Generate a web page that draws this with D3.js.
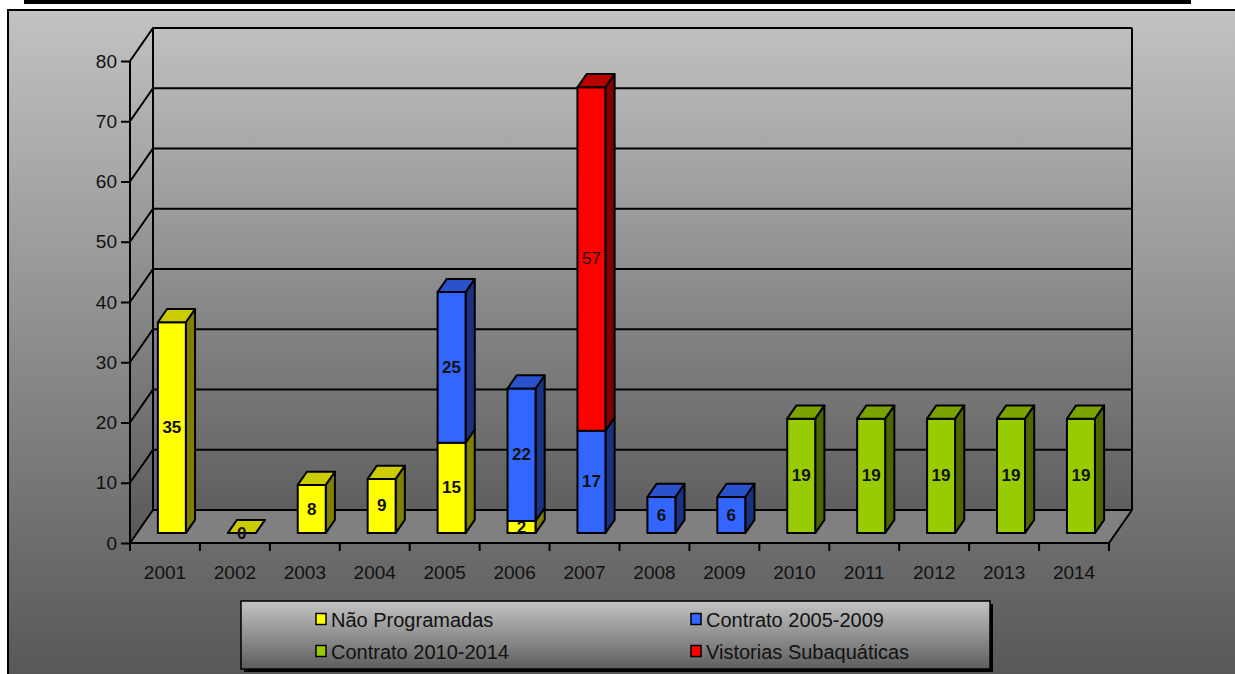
<!DOCTYPE html>
<html>
<head>
<meta charset="utf-8">
<script src="https://cdn.jsdelivr.net/npm/d3@7/dist/d3.min.js"></script>
<style>
  html, body { margin: 0; padding: 0; background: #ffffff; }
  svg { display: block; }
  text { font-family: Arial, "Liberation Sans", sans-serif; }
</style>
</head>
<body>
<svg id="chart" width="1235" height="674"></svg>
<script>
// ---- data ----
const years = ["2001","2002","2003","2004","2005","2006","2007","2008","2009","2010","2011","2012","2013","2014"];
const naoProgramadas = [35, 0, 8, 9, 15, 2, null, null, null, null, null, null, null, null];
const contrato0509   = [null, null, null, null, 25, 22, 17, 6, 6, null, null, null, null, null];
const contrato1014   = [null, null, null, null, null, null, null, null, null, 19, 19, 19, 19, 19];
const vistorias      = [null, null, null, null, null, null, 57, null, null, null, null, null, null, null];
const seriesNames = ["Não Programadas", "Contrato 2005-2009", "Contrato 2010-2014", "Vistorias Subaquáticas"];
const yTicks = [0, 10, 20, 30, 40, 50, 60, 70, 80];

const seriesValues = [naoProgramadas, contrato0509, contrato1014, vistorias];
const palette = [
  { front: "#ffff00", top: "#cccc00", side: "#808000" },
  { front: "#3366ff", top: "#2952cc", side: "#1a3380" },
  { front: "#99cc00", top: "#7aa300", side: "#4d6600" },
  { front: "#ff0000", top: "#b80000", side: "#800000" }
];

const svg = d3.select("#chart");
const W = 1235, H = 674;

// ---- geometry ----
const depth = { dx: 23, dy: -33 };          // full floor depth
const barFront = 0.3, barBack = 0.7;        // bar position within the depth
const x = d3.scaleBand().domain(years).range([130, 1109]).paddingInner(0).paddingOuter(0);
const y = d3.scaleLinear().domain([0, 80]).range([543, 61]);
const barW = x.bandwidth() * 0.4;

const defs = svg.append("defs");
function vGrad(id, y1, y2, c1, c2) {
  const g = defs.append("linearGradient").attr("id", id)
    .attr("gradientUnits", "userSpaceOnUse")
    .attr("x1", 0).attr("x2", 0).attr("y1", y1).attr("y2", y2);
  g.append("stop").attr("offset", 0).attr("stop-color", c1);
  g.append("stop").attr("offset", 1).attr("stop-color", c2);
}
vGrad("bgGrad", 10, 674, "#c2c2c2", "#585858");
vGrad("wallGrad", 28, 543, "#c0c0c0", "#585858");
vGrad("legendGrad", 601, 669, "#c4c4c4", "#5e5e5e");

// header strip
svg.append("rect").attr("x", 24).attr("y", 0).attr("width", 1167).attr("height", 4).attr("fill", "#000");

// chart area background
svg.append("rect").attr("x", 8).attr("y", 10).attr("width", W).attr("height", H)
  .attr("fill", "url(#bgGrad)").attr("stroke", "#000").attr("stroke-width", 2);

const line = d3.line();
const y0 = y(0), yTop = y(80);
const xL = x.range()[0], xR = x.range()[1];

// back wall
svg.append("rect")
  .attr("x", xL + depth.dx).attr("y", yTop + depth.dy)
  .attr("width", xR - xL).attr("height", y0 - yTop)
  .attr("fill", "url(#wallGrad)");
// side wall
svg.append("path")
  .attr("d", line([[xL, yTop], [xL + depth.dx, yTop + depth.dy], [xL + depth.dx, y0 + depth.dy], [xL, y0]]) + "Z")
  .attr("fill", "url(#wallGrad)");
// floor
svg.append("path")
  .attr("d", line([[xL, y0], [xR, y0], [xR + depth.dx, y0 + depth.dy], [xL + depth.dx, y0 + depth.dy]]) + "Z")
  .attr("fill", "#808080");

// gridlines on walls
const grid = svg.append("g").attr("stroke", "#000").attr("stroke-width", 2).attr("fill", "none");
yTicks.forEach(v => {
  const yy = y(v);
  grid.append("path").attr("d", line([[xL, yy], [xL + depth.dx, yy + depth.dy], [xR + depth.dx, yy + depth.dy]]));
});
// wall edges
grid.append("path").attr("d", line([[xL + depth.dx, yTop + depth.dy], [xL + depth.dx, y0 + depth.dy]]));
grid.append("path").attr("d", line([[xR + depth.dx, yTop + depth.dy], [xR + depth.dx, y0 + depth.dy]]));
grid.append("path").attr("d", line([[xR, y0], [xR + depth.dx, y0 + depth.dy]]));
grid.append("path").attr("d", line([[xL, y0], [xR, y0]]));

// y axis
const yAxis = d3.axisLeft(y).tickValues(yTicks).tickSize(9).tickPadding(4);
const gy = svg.append("g").attr("transform", `translate(${xL},0)`).call(yAxis);
gy.select(".domain").attr("stroke", "#000").attr("stroke-width", 2).attr("d", `M0,${yTop}V${y0}`);
gy.selectAll(".tick line").attr("stroke", "#000").attr("stroke-width", 2);
gy.selectAll(".tick text").attr("font-size", 19).attr("fill", "#111").attr("font-family", "Arial, 'Liberation Sans', sans-serif");

// x axis: labels centred in each band, ticks at band boundaries
const gx = svg.append("g").attr("transform", `translate(0,${y0})`).call(d3.axisBottom(x).tickSize(0).tickPadding(23));
gx.select(".domain").remove();
gx.selectAll(".tick text").attr("font-size", 19).attr("fill", "#111").attr("font-family", "Arial, 'Liberation Sans', sans-serif");
const bounds = years.map(d => x(d)).concat([xR]);
svg.append("g").selectAll("line").data(bounds).join("line")
  .attr("x1", d => d).attr("x2", d => d).attr("y1", y0).attr("y2", y0 + 8)
  .attr("stroke", "#000").attr("stroke-width", 2);

// ---- bars ----
const fx = depth.dx * barFront, fy = depth.dy * barFront;
const bdx = depth.dx * (barBack - barFront), bdy = depth.dy * (barBack - barFront);
const bars = svg.append("g").attr("stroke", "#000").attr("stroke-width", 2).attr("stroke-linejoin", "round");
const labels = [];

years.forEach((yr, i) => {
  const cx = x(yr) + x.bandwidth() / 2 + fx;
  const left = cx - barW / 2, right = cx + barW / 2;
  let base = 0;
  const segs = [];
  seriesValues.forEach((vals, s) => {
    const v = vals[i];
    if (v === null || v === undefined) return;
    segs.push({ s, v, from: base, to: base + v });
    base += v;
  });
  segs.forEach((seg, k) => {
    const c = palette[seg.s];
    const yb = y(seg.from) + fy, yt = y(seg.to) + fy;
    const isTop = k === segs.length - 1;
    if (seg.v > 0) {
      bars.append("path").attr("fill", c.side)
        .attr("d", line([[right, yb], [right + bdx, yb + bdy], [right + bdx, yt + bdy], [right, yt]]) + "Z");
      bars.append("path").attr("fill", c.front)
        .attr("d", line([[left, yb], [right, yb], [right, yt], [left, yt]]) + "Z");
    }
    if (isTop) {
      bars.append("path").attr("fill", c.top)
        .attr("d", line([[left, yt], [right, yt], [right + bdx, yt + bdy], [left + bdx, yt + bdy]]) + "Z");
    }
    labels.push({ x: cx, y: (yb + yt) / 2, v: seg.v, s: seg.s });
  });
});

svg.append("g").selectAll("text").data(labels).join("text")
  .attr("x", d => d.x).attr("y", d => d.y)
  .attr("text-anchor", "middle").attr("dominant-baseline", "central")
  .attr("font-size", 17)
  .attr("font-weight", d => d.s === 3 ? "normal" : "bold")
  .attr("fill", "#111")
  .text(d => d.v);

// ---- legend ----
const lg = svg.append("g");
const lx = 241, ly = 601, lw = 749, lh = 68;
lg.append("rect").attr("x", lx + 3).attr("y", ly + 3).attr("width", lw).attr("height", lh).attr("fill", "#000");
lg.append("rect").attr("x", lx).attr("y", ly).attr("width", lw).attr("height", lh)
  .attr("fill", "url(#legendGrad)").attr("stroke", "#000").attr("stroke-width", 1.5);
const legendPos = [[316, 619], [691, 619], [316, 651], [691, 651]];
seriesNames.forEach((name, s) => {
  const [mx, my] = legendPos[s];
  lg.append("rect").attr("x", mx).attr("y", my - 5.5).attr("width", 10).attr("height", 11)
    .attr("fill", palette[s].front).attr("stroke", "#000").attr("stroke-width", 1.5);
  lg.append("text").attr("x", mx + 15).attr("y", my + 1).attr("dominant-baseline", "central")
    .attr("font-size", 20).attr("fill", "#111").text(name);
});
</script>
</body>
</html>
